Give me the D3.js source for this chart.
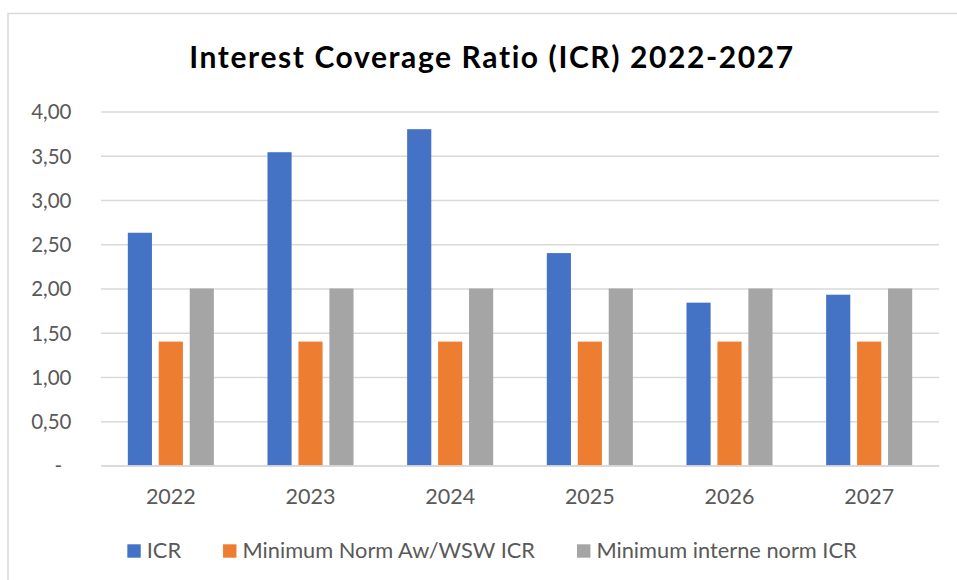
<!DOCTYPE html>
<html>
<head>
<meta charset="utf-8">
<script src="https://cdn.jsdelivr.net/npm/d3@7"></script>
<style>
  body { margin: 0; background: #fff; }
  text { font-family: Lato, "Open Sans", sans-serif; }
</style>
</head>
<body>
<div id="graf"></div>
<script>
// data
years = ['2022', '2023', '2024', '2025', '2026', '2027']
series = ['ICR', 'Minimum Norm Aw/WSW ICR', 'Minimum interne norm ICR']
icr = [2.63, 3.54, 3.80, 2.40, 1.84, 1.93]
normAwWsw = [1.40, 1.40, 1.40, 1.40, 1.40, 1.40]
normIntern = [2.00, 2.00, 2.00, 2.00, 2.00, 2.00]
yTicks = [0, 0.5, 1, 1.5, 2, 2.5, 3, 3.5, 4]
colors = ['#4472C4', '#ED7D31', '#A5A5A5']

ancho_total = 957
alto_total = 580
centro = 492

svg = d3.select('#graf').append('svg')
        .attr('width', ancho_total)
        .attr('height', alto_total)

// marco del grafico (cortado a la derecha y abajo)
svg.append('path')
   .attr('d', 'M8,' + (alto_total + 5) + ' V13.5 H' + (ancho_total + 5))
   .attr('fill', 'none')
   .attr('stroke', '#d9d9d9')
   .attr('stroke-width', 1.5)

svg.append('text')
   .attr('x', centro)
   .attr('y', 67.5)
   .attr('text-anchor', 'middle')
   .style('font-size', '30px')
   .style('font-weight', 'bold')
   .style('letter-spacing', '1.6px')
   .style('fill', '#000')
   .text('Interest Coverage Ratio (ICR) 2022-2027')

margins = { left: 101, right: 939, top: 111.5, bottom: 465.5 }

x0 = d3.scaleBand()
       .domain(years)
       .range([margins.left, margins.right])
       .paddingInner(0.384)
       .paddingOuter(0.192)

x1 = d3.scaleBand()
       .domain(series)
       .range([0, x0.bandwidth()])
       .paddingInner(0.22)

y = d3.scaleLinear()
      .domain([0, 4])
      .range([margins.bottom, margins.top])

// EJE Y + rejilla
yAxis = d3.axisLeft(y)
          .tickValues(yTicks)
          .tickSize(-(margins.right - margins.left))
          .tickPadding(29.5)
          .tickFormat(d => d === 0 ? '-' : d3.format('.2f')(d).replace('.', ','))

gy = svg.append('g')
        .attr('transform', 'translate(' + margins.left + ',0)')
        .call(yAxis)
gy.select('.domain').remove()
gy.selectAll('line').attr('stroke', '#d9d9d9').attr('stroke-width', 1.5)
gy.selectAll('text')
  .style('font-size', '20.5px')
  .style('fill', '#595959')
  .attr('dy', '0.36em')
gy.selectAll('.tick').filter(d => d === 0).select('text').attr('x', -39)

// BARRAS
rows = years.map((yr, i) => ({ year: yr, values: [icr[i], normAwWsw[i], normIntern[i]] }))

grupos = svg.append('g').selectAll('g')
            .data(rows)
            .enter().append('g')
            .attr('transform', d => 'translate(' + x0(d.year) + ',0)')

grupos.selectAll('rect')
      .data(d => d.values.map((v, j) => ({ serie: series[j], v: v, c: colors[j] })))
      .enter().append('rect')
      .attr('x', d => x1(d.serie))
      .attr('width', x1.bandwidth())
      .attr('y', d => y(d.v))
      .attr('height', d => y(0) - y(d.v))
      .attr('fill', d => d.c)

// EJE X
xAxis = d3.axisBottom(x0).tickSize(0).tickPadding(23)
gx = svg.append('g')
        .attr('transform', 'translate(0,' + margins.bottom + ')')
        .call(xAxis)
gx.select('.domain').attr('stroke', '#d9d9d9').attr('stroke-width', 1.5)
gx.selectAll('text')
  .style('font-size', '21.5px')
  .style('fill', '#595959')
  .attr('dy', '0.71em')

// LEYENDAS
legend = svg.append('g')
items = legend.selectAll('g')
              .data(series)
              .enter().append('g')

items.append('rect')
     .attr('y', 544.3)
     .attr('width', 13.4)
     .attr('height', 13.4)
     .attr('fill', (d, i) => colors[i])

items.append('text')
     .attr('x', 19.4)
     .attr('y', 557.5)
     .style('font-size', '21.8px')
     .style('fill', '#595959')
     .text(d => d)

let pos = 0
items.each(function() {
  const item = d3.select(this)
  item.attr('transform', 'translate(' + pos + ',0)')
  pos += 19.4 + item.select('text').node().getComputedTextLength() + 42
})
pos -= 42
legend.attr('transform', 'translate(' + (centro - pos / 2) + ',0)')
</script>
</body>
</html>
